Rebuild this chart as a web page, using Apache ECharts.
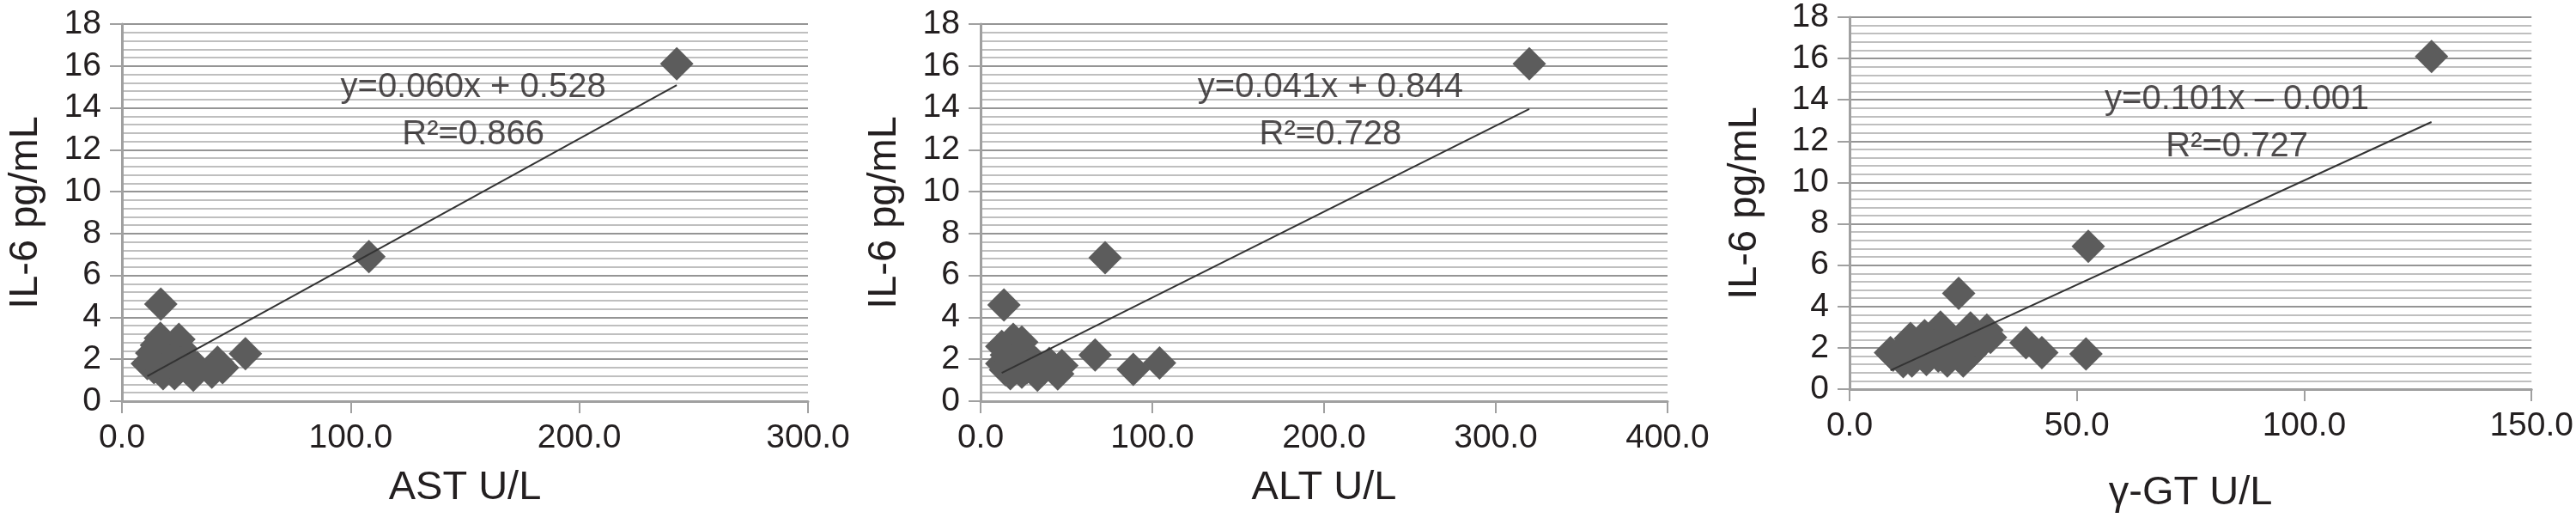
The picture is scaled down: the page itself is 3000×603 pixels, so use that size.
<!DOCTYPE html>
<html>
<head>
<meta charset="utf-8">
<script src="https://cdn.jsdelivr.net/npm/echarts@6/dist/echarts.min.js"></script>
<style>
  html, body { margin: 0; background: #fff; }
  #myChart { width: 3000px; height: 603px; }
</style>
</head>
<body>
<div id="myChart"></div>
<script>
  // IL-6 against liver enzymes, [enzyme U/L, IL-6 pg/mL]
  const astData = [[242.6, 16.1], [108.0, 6.9], [17.0, 4.63], [54.0, 2.27], [11.1, 1.79], [15.1, 2.68], [16.8, 3.0],
    [24.9, 2.95], [18.0, 1.31], [23.0, 1.31], [28.7, 1.52], [41.8, 1.86], [39.3, 1.38], [28.0, 2.06], [31.2, 1.24],
    [20.0, 2.2], [14.0, 1.6], [22.0, 1.7], [26.0, 2.5], [19.0, 2.6], [33.0, 1.6], [21.0, 1.9], [44.0, 1.6],
    [13.0, 2.3], [17.5, 1.5], [25.5, 1.8]];
  const altData = [[319.5, 16.1], [72.5, 6.85], [13.6, 4.59], [66.7, 2.2], [88.9, 1.52], [104.2, 1.82], [47.3, 1.7],
    [44.9, 1.3], [33.1, 1.24], [19.0, 2.95], [24.0, 2.82], [12.3, 2.61], [12.3, 1.79], [17.3, 1.31], [24.0, 1.38],
    [25.6, 2.34], [32.3, 1.79], [15.0, 2.2], [20.0, 1.6], [28.0, 2.0], [21.5, 2.5], [36.0, 1.5], [18.0, 1.9],
    [27.0, 1.6], [14.5, 1.5], [40.0, 1.8]];
  const ggtData = [[128.0, 16.1], [52.5, 6.91], [24.0, 4.63], [38.8, 2.25], [42.3, 1.77], [52.0, 1.7], [20.0, 3.0],
    [26.6, 2.96], [30.2, 2.86], [13.4, 2.45], [9.0, 1.77], [16.5, 2.59], [28.1, 2.05], [9.6, 1.64], [11.8, 1.33],
    [13.7, 1.36], [16.9, 1.43], [21.5, 1.36], [25.0, 1.36], [26.6, 1.7], [31.0, 2.5], [18.5, 2.1], [22.5, 2.3],
    [12.0, 2.0], [15.0, 1.8], [19.5, 1.6], [23.5, 1.8], [27.5, 2.4]];

  const xNames = ['AST U/L', 'ALT U/L', 'γ-GT U/L'];
  const yName = 'IL-6 pg/mL';
  const xMax = [300, 400, 150];
  const xStep = [100, 100, 50];
  const yMax = 18;
  const yStep = 2;

  // linear trend lines
  const slopes = [0.060, 0.041, 0.101];
  const intercepts = [0.528, 0.844, -0.001];
  const eqTexts = ['y=0.060x + 0.528', 'y=0.041x + 0.844', 'y=0.101x – 0.001'];
  const r2Texts = ['R²=0.866', 'R²=0.728', 'R²=0.727'];
  const eqPos = [[153.6, 13.84], [203.7, 13.84], [85.2, 12.87]];

  const panels = [astData, altData, ggtData];
  const grids = [
    {left: 142, top: 28, width: 799, height: 439},
    {left: 1142, top: 28, width: 800, height: 439},
    {left: 2154, top: 20, width: 798, height: 440}
  ];
  const xNameGap = [78, 78, 98];
  const yNameGap = [88, 88, 98];

  const font = 'Liberation Sans';
  const ink = '#231f20';
  const axisGray = '#a0a0a0';

  let xAxis = [], yAxis = [], series = [];
  panels.forEach(function (data, i) {
    xAxis.push({
      gridIndex: i,
      type: 'value',
      min: 0,
      max: xMax[i],
      interval: xStep[i],
      name: xNames[i],
      nameLocation: 'middle',
      nameGap: xNameGap[i],
      nameTextStyle: {fontFamily: font, fontSize: 47, color: ink},
      axisLine: {onZero: false, lineStyle: {color: axisGray, width: 3}},
      axisTick: {length: 14, lineStyle: {color: axisGray, width: 2}},
      axisLabel: {fontFamily: font, fontSize: 39, color: ink, margin: 24,
        formatter: function (v) { return v.toFixed(1); }},
      splitLine: {show: false}
    });
    yAxis.push({
      gridIndex: i,
      type: 'value',
      min: 0,
      max: yMax,
      interval: yStep,
      name: yName,
      nameLocation: 'middle',
      nameGap: yNameGap[i],
      nameTextStyle: {fontFamily: font, fontSize: 47, color: ink},
      axisLine: {show: true, lineStyle: {color: axisGray, width: 3}},
      axisTick: {show: true, length: 14, lineStyle: {color: axisGray, width: 2}},
      axisLabel: {fontFamily: font, fontSize: 39, color: ink, margin: 24},
      splitLine: {show: true, lineStyle: {color: '#959595', width: 2}},
      minorTick: {show: false, splitNumber: 5},
      minorSplitLine: {show: true, lineStyle: {color: '#bfbfbf', width: 2}}
    });

    let xs = data.map(function (d) { return d[0]; });
    let x0 = Math.min.apply(null, xs);
    let x1 = Math.max.apply(null, xs);

    series.push({
      type: 'scatter',
      xAxisIndex: i,
      yAxisIndex: i,
      symbol: 'diamond',
      symbolSize: 39,
      itemStyle: {color: '#5c5c5c', opacity: 1},
      data: data,
      z: 2
    });
    series.push({
      type: 'line',
      xAxisIndex: i,
      yAxisIndex: i,
      showSymbol: false,
      silent: true,
      lineStyle: {color: '#333', width: 2},
      data: [[x0, slopes[i] * x0 + intercepts[i]], [x1, slopes[i] * x1 + intercepts[i]]],
      z: 3
    });
    // equation + R² label, placed in data space
    series.push({
      type: 'scatter',
      xAxisIndex: i,
      yAxisIndex: i,
      symbolSize: 1,
      silent: true,
      itemStyle: {color: 'transparent'},
      label: {
        show: true,
        position: 'inside',
        formatter: eqTexts[i] + '\n' + r2Texts[i],
        fontFamily: font,
        fontSize: 40,
        lineHeight: 55,
        align: 'center',
        color: ink
      },
      data: [eqPos[i]],
      z: 4
    });
  });

  let myChart = echarts.init(document.getElementById('myChart'));
  myChart.setOption({
    animation: false,
    backgroundColor: '#fff',
    grid: grids,
    xAxis: xAxis,
    yAxis: yAxis,
    series: series
  });
</script>
</body>
</html>
